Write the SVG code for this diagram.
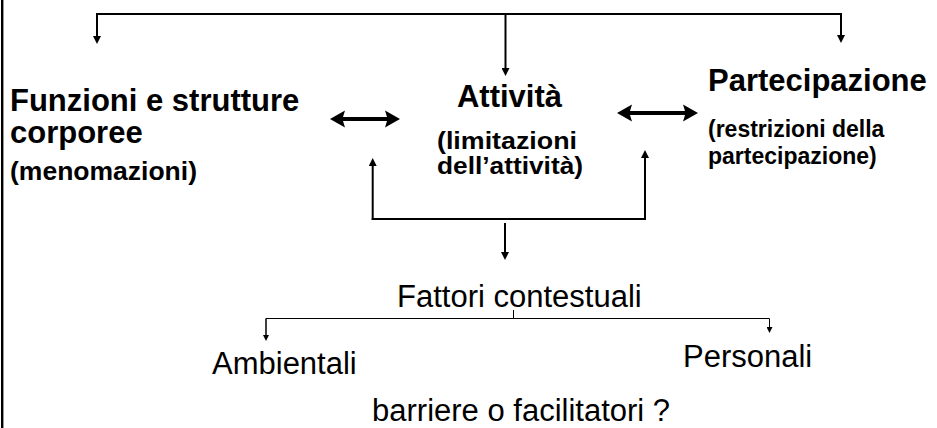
<svg xmlns="http://www.w3.org/2000/svg" width="937" height="428" viewBox="0 0 937 428">
<style>
.t{font-family:"Liberation Sans",Arial,sans-serif;fill:#000}
.b{font-weight:bold}
.ln{stroke:#000;fill:none;stroke-width:2}
.th{stroke:#000;fill:none;stroke-width:1}
.dbl{fill:#000;stroke:none}
</style>
<defs>
<marker id="ah" markerUnits="userSpaceOnUse" markerWidth="9" markerHeight="8" refX="1" refY="4" orient="auto">
<path d="M0,0 L8,4 L0,8 z" fill="#000"/>
</marker>
<marker id="sm" markerUnits="userSpaceOnUse" markerWidth="7" markerHeight="6" refX="1" refY="3" orient="auto">
<path d="M0,0 L6,3 L0,6 z" fill="#000"/>
</marker>
</defs>
<rect x="0" y="0" width="937" height="428" fill="#fff"/>
<line x1="2.2" y1="0" x2="2.2" y2="428" stroke="#000" stroke-width="2.4"/>
<g id="connectors">
<polyline class="ln" points="97,37 97,14 841,14 841,36" marker-end="url(#ah)"/>
<line class="ln" x1="97" y1="14" x2="97" y2="37" marker-end="url(#ah)"/>
<line class="ln" x1="505.5" y1="14" x2="505.5" y2="69" marker-end="url(#ah)"/>
<polyline class="ln" points="372.7,220 372.7,219 645,219 645,157" marker-end="url(#ah)" stroke-width="2.5"/>
<line class="ln" x1="372.7" y1="220" x2="372.7" y2="165" marker-end="url(#ah)" stroke-width="2.5"/>
<line class="ln" x1="505" y1="223" x2="505" y2="253" marker-end="url(#ah)"/>
<path class="dbl" d="M330,119 L345,110.5 L343,117 L387,117 L385,110.5 L400,119 L385,127.5 L387,121 L343,121 L345,127.5 Z"/>
<path class="dbl" d="M617,113 L632,104.5 L630,111 L685,111 L683,104.5 L698,113 L683,121.5 L685,115 L630,115 L632,121.5 Z"/>
<line class="th" x1="513.5" y1="310" x2="513.5" y2="318.5"/>
<polyline class="th" points="266,336 266,318.5 769.5,318.5 769.5,328" marker-end="url(#sm)"/>
<line class="th" x1="266" y1="318.5" x2="266" y2="336" marker-end="url(#sm)"/>
</g>
<g id="funzioni">
<text class="t b" x="10" y="111" font-size="31">Funzioni e strutture</text>
<text class="t b" x="10" y="143" font-size="31">corporee</text>
<text class="t b" x="10" y="180" font-size="26.5">(menomazioni)</text>
</g>
<g id="attivita">
<text class="t b" x="509.5" y="107" font-size="31" text-anchor="middle">Attività</text>
<text class="t b" x="507" y="148.5" font-size="23" text-anchor="middle" textLength="140" lengthAdjust="spacingAndGlyphs">(limitazioni</text>
<text class="t b" x="510" y="174" font-size="23" text-anchor="middle" textLength="146" lengthAdjust="spacingAndGlyphs">dell’attività)</text>
</g>
<g id="partecipazione">
<text class="t b" x="708" y="91" font-size="31">Partecipazione</text>
<text class="t b" x="708" y="137" font-size="23">(restrizioni della</text>
<text class="t b" x="708" y="164" font-size="23">partecipazione)</text>
</g>
<g id="fattori">
<text class="t" x="397" y="307" font-size="31">Fattori contestuali</text>
</g>
<g id="ambientali">
<text class="t" x="212" y="374" font-size="31">Ambientali</text>
</g>
<g id="personali">
<text class="t" x="683" y="367" font-size="31">Personali</text>
</g>
<g id="barriere">
<text class="t" x="372" y="421" font-size="31">barriere o facilitatori ?</text>
</g>
</svg>
